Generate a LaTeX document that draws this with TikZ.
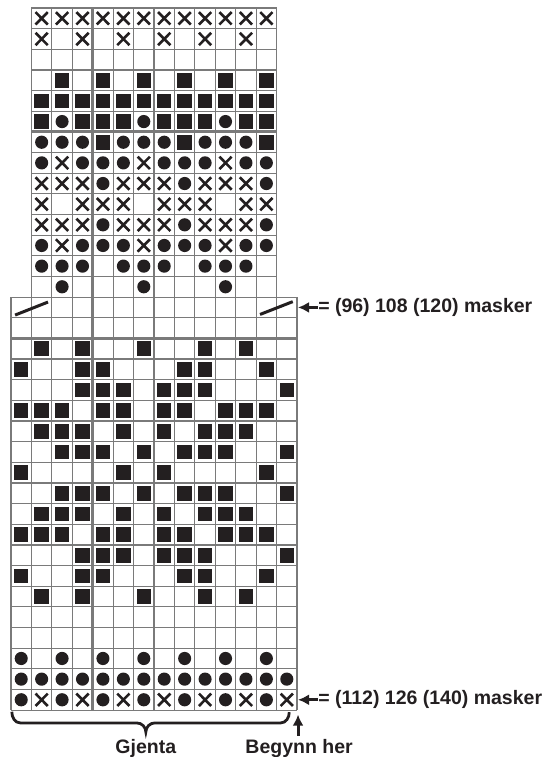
\documentclass[tikz,border=0pt]{standalone}
\usepackage{fontspec}
\setmainfont{Liberation Sans}
\usetikzlibrary{arrows.meta}
\definecolor{rute}{RGB}{122,122,122}
\definecolor{ink}{RGB}{35,31,32}

\tikzset{
  sqr/.pic={\fill[ink] (-0.355,-0.355) rectangle (0.355,0.355);},
  dot/.pic={\fill[ink] (0,0) circle (0.32);},
  kry/.pic={\draw[ink, line width=2.6pt] (-0.3,-0.3) -- (0.3,0.3) (-0.3,0.3) -- (0.3,-0.3);},
  e/.pic={},
  thin line/.style={rute, line width=1.2pt},
  heavy line/.style={rute, line width=2.8pt},
  slash line/.style={ink, line width=3pt},
  brace line/.style={ink, line width=2.8pt},
  pil/.style={ink, line width=3pt, -{Latex[length=11pt,width=11pt]}},
  label text/.style={ink, font=\fontsize{19.5}{24}\selectfont\bfseries, inner sep=0pt},
}

\begin{document}
\begin{tikzpicture}[x=20.43pt, y=-20.65pt]
    \useasboundingbox (-11pt,8pt) rectangle (541pt,-749pt);

    % grid, upper part (12 masker)
    \foreach \i in {1,...,13} \draw[thin line] (\i,0) -- (\i,14);
    \foreach \j in {0,...,13} \draw[thin line] (1,\j) -- (13,\j);
    % grid, lower part (14 masker)
    \foreach \i in {0,...,14} \draw[thin line] (\i,14) -- (\i,34);
    \foreach \j in {14,...,34} \draw[thin line] (0,\j) -- (14,\j);

    % heavier lines
    \draw[heavy line] (4,0) -- (4,34);
    \draw[heavy line] (1,6) -- (13,6);
    \draw[heavy line] (0,16) -- (14,16);
    \draw[heavy line] (0,26) -- (14,26);

    % symbols, upper part
    \foreach \row [count=\r from 0] in {
        {kry,kry,kry,kry,kry,kry,kry,kry,kry,kry,kry,kry},
        {kry,e,kry,e,kry,e,kry,e,kry,e,kry,e},
        {e},
        {e,sqr,e,sqr,e,sqr,e,sqr,e,sqr,e,sqr},
        {sqr,sqr,sqr,sqr,sqr,sqr,sqr,sqr,sqr,sqr,sqr,sqr},
        {sqr,dot,sqr,sqr,sqr,dot,sqr,sqr,sqr,dot,sqr,sqr},
        {dot,dot,dot,sqr,dot,dot,dot,sqr,dot,dot,dot,sqr},
        {dot,kry,dot,dot,dot,kry,dot,dot,dot,kry,dot,dot},
        {kry,kry,kry,dot,kry,kry,kry,dot,kry,kry,kry,dot},
        {kry,e,kry,kry,kry,e,kry,kry,kry,e,kry,kry},
        {kry,kry,kry,dot,kry,kry,kry,dot,kry,kry,kry,dot},
        {dot,kry,dot,dot,dot,kry,dot,dot,dot,kry,dot,dot},
        {dot,dot,dot,e,dot,dot,dot,e,dot,dot,dot,e},
        {e,dot,e,e,e,dot,e,e,e,dot,e,e}}
      \foreach \c [count=\k] in \row
        \pic at (\k+0.5,\r+0.5) {\c};

    % symbols, lower part
    \foreach \row [count=\r from 14] in {
        {e},
        {e},
        {e,sqr,e,sqr,e,e,sqr,e,e,sqr,e,sqr,e,e},
        {sqr,e,e,sqr,sqr,e,e,e,sqr,sqr,e,e,sqr,e},
        {e,e,e,sqr,sqr,sqr,e,sqr,sqr,sqr,e,e,e,sqr},
        {sqr,sqr,sqr,e,sqr,sqr,e,sqr,sqr,e,sqr,sqr,sqr,e},
        {e,sqr,sqr,sqr,e,sqr,e,sqr,e,sqr,sqr,sqr,e,e},
        {e,e,sqr,sqr,sqr,e,sqr,e,sqr,sqr,sqr,e,e,sqr},
        {sqr,e,e,e,e,sqr,e,sqr,e,e,e,e,sqr,e},
        {e,e,sqr,sqr,sqr,e,sqr,e,sqr,sqr,sqr,e,e,sqr},
        {e,sqr,sqr,sqr,e,sqr,e,sqr,e,sqr,sqr,sqr,e,e},
        {sqr,sqr,sqr,e,sqr,sqr,e,sqr,sqr,e,sqr,sqr,sqr,e},
        {e,e,e,sqr,sqr,sqr,e,sqr,sqr,sqr,e,e,e,sqr},
        {sqr,e,e,sqr,sqr,e,e,e,sqr,sqr,e,e,sqr,e},
        {e,sqr,e,sqr,e,e,sqr,e,e,sqr,e,sqr,e,e},
        {e},
        {e},
        {dot,e,dot,e,dot,e,dot,e,dot,e,dot,e,dot,e},
        {dot,dot,dot,dot,dot,dot,dot,dot,dot,dot,dot,dot,dot,dot},
        {dot,kry,dot,kry,dot,kry,dot,kry,dot,kry,dot,kry,dot,kry}}
      \foreach \c [count=\k from 0] in \row
        \pic at (\k+0.5,\r+0.5) {\c};

    % decreases
    \coordinate (fellA1) at (0.2,14.87);
    \coordinate (fellA2) at (1.81,14.24);
    \coordinate (fellB1) at (12.19,14.84);
    \coordinate (fellB2) at (13.79,14.22);
    \draw[slash line] (fellA1) -- (fellA2);
    \draw[slash line] (fellB1) -- (fellB2);

    % stitch counts
    \coordinate (kant15) at (14.05,14.5);
    \node[label text, anchor=west] (maskerA) at (15.03,14.5) {= (96) 108 (120) masker};
    \draw[pil] (maskerA.west) -- (kant15);

    \coordinate (kant34) at (14.05,33.5);
    \node[label text, anchor=west] (maskerB) at (15.03,33.5) {= (112) 126 (140) masker};
    \draw[pil] (maskerB.west) -- (kant34);

    % repeat brace
    \draw[brace line] (0.04,34.08) to[out=-90,in=180] (0.45,34.62) -- (6.15,34.62)
        to[out=0,in=90] (6.6,35.06) to[out=90,in=180] (7.05,34.62) -- (13.2,34.62)
        to[out=0,in=-90] (13.62,34.1);
    \node[label text, anchor=base] (gjenta) at (6.6,36.08) {Gjenta};

    % start arrow
    \coordinate (start) at (14.05,34.22);
    \node[label text, anchor=base] (begynn) at (14.1,36.08) {Begynn her};
    \draw[pil] ([yshift=3pt]begynn.north -| start) -- (start);
\end{tikzpicture}
\end{document}
